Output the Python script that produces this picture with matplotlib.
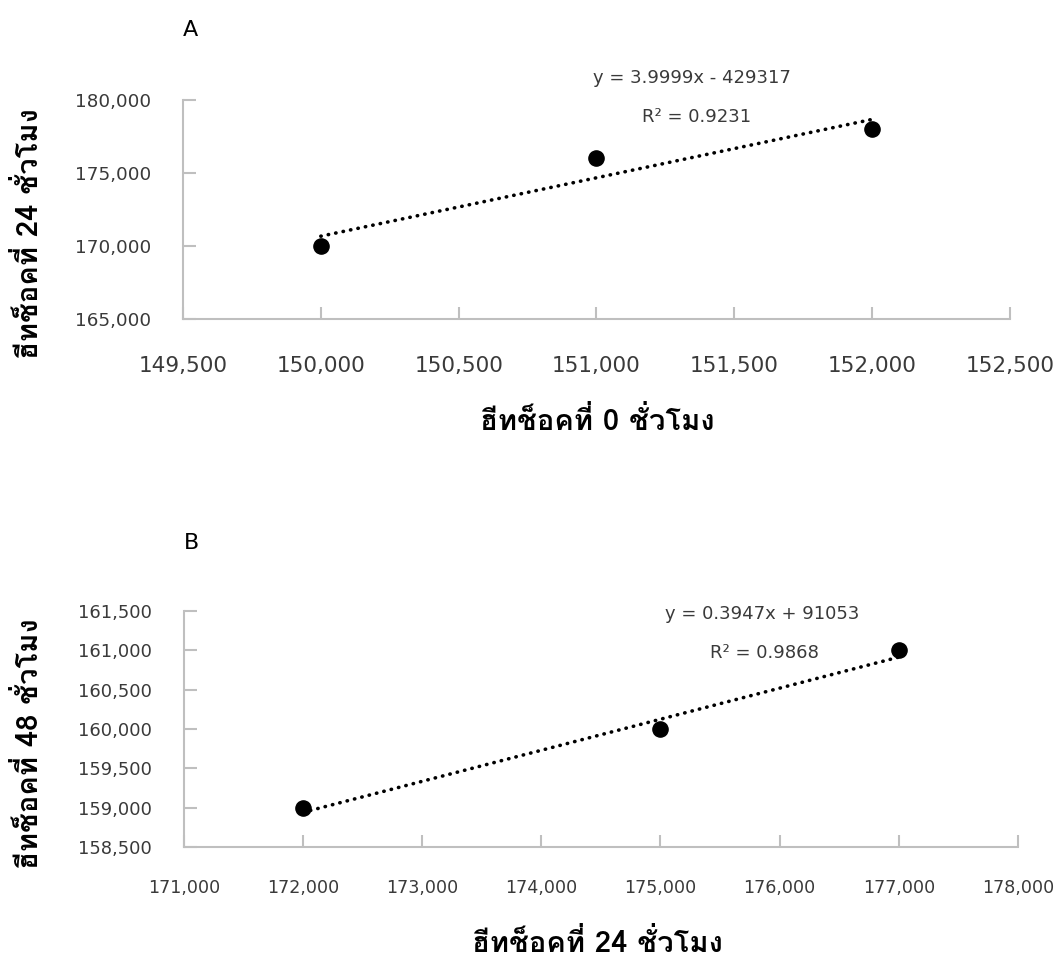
import matplotlib
matplotlib.use("Agg")
import matplotlib.pyplot as plt
from matplotlib import font_manager
from matplotlib.ticker import FuncFormatter
from matplotlib.ft2font import FT2Font

# panel A: heat shock 0 h vs 24 h
a_x = [150000, 151000, 152000]
a_y = [170000, 176000, 178000]
a_slope, a_icept = 3.9999, -429317
a_r2 = 0.9231

# panel B: heat shock 24 h vs 48 h
b_x = [172000, 175000, 177000]
b_y = [159000, 160000, 161000]
b_slope, b_icept = 0.3947, 91053
b_r2 = 0.9868

a_xlabel = "ฮีทช็อคที่ 0 ชั่วโมง"
a_ylabel = "ฮีทช็อคที่ 24 ชั่วโมง"
b_xlabel = "ฮีทช็อคที่ 24 ชั่วโมง"
b_ylabel = "ฮีทช็อคที่ 48 ชั่วโมง"


def thai_family():
    # pick an installed font with Thai glyphs, sans preferred
    found = {}
    for f in font_manager.fontManager.ttflist:
        try:
            cmap = FT2Font(f.fname).get_charmap()
        except Exception:
            continue
        if 0x0E2E in cmap and 0x0E47 in cmap:
            score = 0
            if "Serif" not in f.name:
                score += 2
            if isinstance(f.weight, int) and f.weight >= 700 or f.weight == "bold":
                score += 1
            found[f.name] = max(found.get(f.name, 0), score)
    if not found:
        return None
    return max(found, key=found.get)


thai = thai_family()
plt.rcParams["font.family"] = ["DejaVu Sans"]
label_family = ([thai] if thai else []) + ["DejaVu Sans"]

grey = "#bfbfbf"
ink = "#3a3a3a"
fmt = FuncFormatter(lambda v, _: f"{v:,.0f}")

fig = plt.figure(figsize=(10.59, 9.59), dpi=100)


def panel(rect, xs, ys, slope, icept, r2, xlim, ylim, xstep, ystep,
          xtick_fs, ytick_fs, xpad, xlabel, ylabel, letter, eq_xy, r2_xy,
          xlab_y, ylab_xy):
    ax = fig.add_axes(rect)
    ax.scatter(xs, ys, s=120, color="black", zorder=3)
    tx = [xs[0], xs[-1]]
    ax.plot(tx, [slope * v + icept for v in tx], color="black", lw=2.6,
            linestyle=(0, (0.1, 2.0)), dash_capstyle="round", zorder=2)
    ax.set_xlim(*xlim)
    ax.set_ylim(*ylim)
    ax.set_xticks(range(xlim[0], xlim[1] + 1, xstep))
    ax.set_yticks(range(ylim[0], ylim[1] + 1, ystep))
    ax.xaxis.set_major_formatter(fmt)
    ax.yaxis.set_major_formatter(fmt)
    for s in ("top", "right"):
        ax.spines[s].set_visible(False)
    for s in ("left", "bottom"):
        ax.spines[s].set_color(grey)
        ax.spines[s].set_linewidth(1.5)
    ax.tick_params(direction="in", length=9, width=1.5, color=grey,
                   labelcolor=ink, pad=23)
    ax.tick_params(axis="x", pad=xpad, labelsize=xtick_fs)
    ax.tick_params(axis="y", labelsize=ytick_fs)
    sign = "-" if icept < 0 else "+"
    eq = f"y = {slope:.4f}x {sign} {abs(icept):.0f}"
    fig.text(*eq_xy, eq, ha="center", va="center", fontsize=13, color=ink)
    fig.text(*r2_xy, f"R² = {r2:.4f}", ha="center", va="center",
             fontsize=13, color=ink)
    fig.text(0.5638, xlab_y, xlabel, ha="center", va="center", fontsize=21,
             fontweight="bold", family=label_family)
    fig.text(*ylab_xy, ylabel, ha="center", va="center",
             rotation=90, fontsize=21, fontweight="bold", family=label_family)
    fig.text(rect[0], letter[1], letter[0], ha="left", va="center",
             fontsize=16)
    return ax


panel([0.1728, 0.6674, 0.7809, 0.2284], a_x, a_y, a_slope, a_icept, a_r2,
      (149500, 152500), (165000, 180000), 500, 5000, 15.5, 13.2, 27,
      a_xlabel, a_ylabel, ("A", 1 - 30 / 959),
      (692 / 1059, 1 - 78 / 959), (697 / 1059, 1 - 117 / 959),
      1 - 422 / 959, (30 / 1059, 1 - 234 / 959))

panel([0.1737, 0.1167, 0.7875, 0.2461], b_x, b_y, b_slope, b_icept, b_r2,
      (171000, 178000), (158500, 161500), 1000, 500, 12.6, 12.9, 23,
      b_xlabel, b_ylabel, ("B", 1 - 543 / 959),
      (762 / 1059, 1 - 614 / 959), (764 / 1059, 1 - 653 / 959),
      1 - 943 / 959, (30 / 1059, 1 - 744 / 959))

fig.savefig("out.png", dpi=100)
